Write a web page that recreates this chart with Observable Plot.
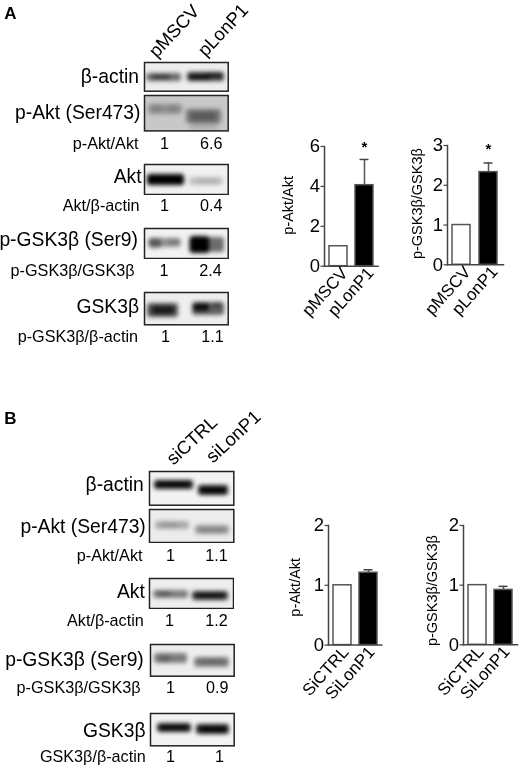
<!DOCTYPE html>
<html>
<head>
<meta charset="utf-8">
<script src="https://cdn.jsdelivr.net/npm/d3@7"></script>
<script src="https://cdn.jsdelivr.net/npm/@observablehq/plot@0.6"></script>
<style>
html,body{margin:0;padding:0;background:#fff;}
#page{position:relative;width:521px;height:765px;overflow:hidden;font-family:"Liberation Sans",Arial,sans-serif;filter:blur(0.3px);}
</style>
</head>
<body>
<div id="page"></div>
<script>
// ---------- bar chart data ----------
const groupsA = ["pMSCV", "pLonP1"];
const groupsB = ["SiCTRL", "SiLonP1"];
const pAktA = [1, 4.06];
const pAktAErr = [null, 5.35];
const pGskA = [1, 2.33];
const pGskAErr = [null, 2.56];
const pAktB = [1, 1.21];
const pAktBErr = [null, 1.26];
const pGskB = [1, 0.92];
const pGskBErr = [null, 0.98];
const ticksA1 = [0, 2, 4, 6];
const ticksA2 = [0, 1, 2, 3];
const ticksB = [0, 1, 2];

// ---------- blot labels and ratios ----------
const headersA = ["pMSCV", "pLonP1"];
const headersB = ["siCTRL", "siLonP1"];
const rowNamesA = ["β-actin", "p-Akt (Ser473)", "Akt", "p-GSK3β (Ser9)", "GSK3β"];
const rowNamesB = ["β-actin", "p-Akt (Ser473)", "Akt", "p-GSK3β (Ser9)", "GSK3β"];
const ratioNamesA = ["p-Akt/Akt", "Akt/β-actin", "p-GSK3β/GSK3β", "p-GSK3β/β-actin"];
const ratioNamesB = ["p-Akt/Akt", "Akt/β-actin", "p-GSK3β/GSK3β", "GSK3β/β-actin"];
const ratioCtrlA = ["1", "1", "1", "1"];
const ratioTreatA = ["6.6", "0.4", "2.4", "1.1"];
const ratioCtrlB = ["1", "1", "1", "1"];
const ratioTreatB = ["1.1", "1.2", "0.9", "1"];

// ---------- blot bands: [x1, x2, y1, y2, density] ----------
const bandsActinA = [[2,37,11,19,.55],[8,26,12.5,17,.5],[43,80,10,19,.75],[45,66,12,18,.65],[62,78,10,15,.5]];
const bandsPAktA = [[4,38,9,19,.28],[8,18,10,17,.1],[24,34,10,17,.1],[42,77,14,28,.4],[46,72,17,25,.25],[46,74,25,35,.12]];
const bandsAktA = [[3,40,10,21,1],[8,34,12,19,.9],[45,79,13,21,.2],[52,74,15,19,.1]];
const bandsPGskA = [[4,37,10,19,.4],[5,17,10,20,.4],[24,35,11,16,.2],[45,80,9,24,.55],[46,65,8,25,1],[49,60,11,21,.8]];
const bandsGskA = [[3,34,11,25,.65],[8,30,14,22,.7],[48,80,10,23,.6],[49,65,11,19,.85],[68,78,10,16,.3]];
const bandsActinB = [[5,44,9,18,.9],[9,40,11,15,.85],[49,79,14,24,.9],[53,75,17,22,.85]];
const bandsPAktB = [[6,40,12,20,.28],[12,30,14,18,.14],[46,80,16,25,.35],[50,76,19,23,.16]];
const bandsAktB = [[4,39,12,20,.48],[8,22,13,18,.28],[43,79,13,22,.78],[47,75,15,20,.7]];
const bandsPGskB = [[4,37,9,19,.48],[9,20,11,18,.22],[44,79,13,23,.45],[48,76,15,20,.22]];
const bandsGskB = [[7,41,10,19,.85],[10,38,12,17,.8],[46,79,11,21,.85],[50,76,13,19,.8]];

// ---------- layout (page pixels) ----------
const blotLayout = [
  {bands: bandsActinA, left: 144, top: 62, w: 83.7, h: 28.7, bg: "#ededed"},
  {bands: bandsPAktA, left: 144, top: 95.3, w: 83.7, h: 35.4, bg: "#c8c8c8"},
  {bands: bandsAktA, left: 144, top: 164.3, w: 83.7, h: 30, bg: "#f1f1f1"},
  {bands: bandsPGskA, left: 144, top: 228.3, w: 83.7, h: 30, bg: "#f2f2f2"},
  {bands: bandsGskA, left: 144, top: 291.7, w: 83.7, h: 32.3, bg: "#eeeeee"},
  {bands: bandsActinB, left: 149, top: 471, w: 84.3, h: 33.7, bg: "#f3f3f3"},
  {bands: bandsPAktB, left: 149, top: 509.3, w: 84.3, h: 33, bg: "#ececec"},
  {bands: bandsAktB, left: 149, top: 578.3, w: 84, h: 30, bg: "#eeeeee"},
  {bands: bandsPGskB, left: 150.3, top: 644, w: 83.7, h: 31.7, bg: "#eeeeee"},
  {bands: bandsGskB, left: 150.3, top: 712.7, w: 83.7, h: 32.3, bg: "#f3f3f3"}
];
const rowRightA = [138.5, 140, 141, 137.5, 138.5];
const rowYA = [76, 112.7, 176.7, 239.3, 306.7];
const ratioRightA = [138, 139, 134, 137.5];
const ratioYA = [143, 205, 270, 336.7];
const ctrlXA = [164, 164, 163.5, 165];
const treatXA = [210.7, 210.7, 210, 212];
const rowRightB = [143.3, 145.3, 144.3, 143.3, 145];
const rowYB = [484.3, 526, 591.7, 659.3, 730];
const ratioRightB = [142, 143.3, 140, 145.3];
const ratioYB = [555.7, 620, 687.7, 756.7];
const ctrlXB = [170, 169, 170, 170];
const treatXB = [216, 216, 216.7, 219];
const headerLayoutA = [
  {text: headersA[0], x: 152, y: 54},
  {text: headersA[1], x: 201, y: 53}
];
const headerLayoutB = [
  {text: headersB[0], x: 169, y: 461},
  {text: headersB[1], x: 208.5, y: 459}
];
const panelLetters = [{text: "A", x: 10, y: 13.5}, {text: "B", x: 10, y: 418.5}];

const page = document.getElementById("page");
const FONT = '"Liberation Sans", Arial, sans-serif';
const INK = "#000";
const AXIS = "#444";

// ---------- blots ----------
for (const b of blotLayout) {
  const rows = b.bands.map(([x1, x2, y1, y2, d]) => ({x1, x2, y1, y2, d}));
  const svg = Plot.plot({
    width: Math.ceil(b.w) + 2, height: Math.ceil(b.h) + 2,
    marginLeft: 1, marginRight: Math.ceil(b.w) + 1 - b.w, marginTop: 1, marginBottom: Math.ceil(b.h) + 1 - b.h,
    x: {domain: [0, b.w], axis: null},
    y: {domain: [b.h, 0], axis: null},
    style: {position: "absolute", left: (b.left - 1) + "px", top: (b.top - 1) + "px", background: "none", maxWidth: "none"},
    marks: [
      Plot.frame({fill: b.bg, stroke: null}),
      Plot.rect(rows, {x1: "x1", x2: "x2", y1: "y1", y2: "y2", fill: "#000", fillOpacity: "d", rx: 3, clip: true}),
      Plot.frame({stroke: "#222", strokeWidth: 1.5})
    ]
  });
  d3.select(svg).select('g[aria-label="rect"]').style("filter", "blur(1.9px)");
  page.appendChild(svg);
}

// ---------- bar charts ----------
const chartLayout = [
  {groups: groupsA, values: pAktA, errs: pAktAErr, ticks: ticksA1, max: 6, label: "p-Akt/Akt", star: 5.95, axisX: 323.7, endX: 377.3, topY: 146, baseY: 265.7, labelX: 288, labelDy: -1, tickDx: 6},
  {groups: groupsA, values: pGskA, errs: pGskAErr, ticks: ticksA2, max: 3, label: "p-GSK3β/GSK3β", star: 2.9, axisX: 447.3, endX: 503.3, topY: 145, baseY: 264.3, labelX: 416.7, labelDy: -1.5, tickDx: 6},
  {groups: groupsB, values: pAktB, errs: pAktBErr, ticks: ticksB, max: 2, label: "p-Akt/Akt", star: null, axisX: 327.7, endX: 381, topY: 524.7, baseY: 644.3, labelX: 295, labelDy: 2, tickDx: 3},
  {groups: groupsB, values: pGskB, errs: pGskBErr, ticks: ticksB, max: 2, label: "p-GSK3β/GSK3β", star: null, axisX: 463.3, endX: 517.3, topY: 524.7, baseY: 644, labelX: 432.3, labelDy: 5.5, tickDx: 3}
];
for (const c of chartLayout) {
  const rows = c.groups.map((g, i) => ({g, v: c.values[i], e: c.errs[i], fill: i ? "#000" : "#fff"}));
  const errRows = rows.filter(r => r.e != null);
  const left = c.axisX - 50, top = c.topY - 14;
  const svg = Plot.plot({
    width: c.endX - left + 4, height: c.baseY - top + 70,
    marginLeft: 50, marginRight: 4, marginTop: 14, marginBottom: 70,
    x: {domain: c.groups, paddingInner: 0.315, paddingOuter: 0.16, axis: null},
    y: {domain: [0, c.max], axis: null},
    style: {position: "absolute", left: left + "px", top: top + "px", background: "none", maxWidth: "none", overflow: "visible", fontFamily: FONT},
    marks: [
      Plot.ruleX(errRows, {x: "g", y1: "v", y2: "e", stroke: "#555", strokeWidth: 1.5}),
      Plot.tickY(errRows, {x: "g", y: "e", stroke: "#444", strokeWidth: 1.5, insetLeft: 4.5, insetRight: 4.5}),
      Plot.barY(rows, {x: "g", y: "v", fill: "fill", stroke: "#555", strokeWidth: 1.5}),
      Plot.frame({anchor: "left", stroke: AXIS, strokeWidth: 1.5}),
      Plot.frame({anchor: "bottom", stroke: AXIS, strokeWidth: 1.5}),
      Plot.axisY({ticks: c.ticks, tickSize: 3.5, tickPadding: 1, stroke: AXIS, strokeWidth: 1.2, fontSize: 18.5, fill: INK, label: null, tickFormat: d3.format("d")}),
      Plot.axisX({domain: c.groups, tickSize: 0, tickRotate: -48, tickPadding: 4, fontSize: 17, fill: INK, label: null, dx: c.tickDx}),
      Plot.text([c.label], {frameAnchor: "left", textAnchor: "middle", rotate: -90, dx: c.labelX - c.axisX, dy: c.labelDy, fontSize: 14.5, fill: INK}),
      c.star == null ? null : Plot.text(errRows, {x: "g", y: () => c.star, text: () => "*", fontSize: 15, fontWeight: "bold", fill: INK})
    ]
  });
  page.appendChild(svg);
}

// ---------- text layer ----------
const zip = (names, xs, ys) => names.map((text, i) => ({text, x: xs[i], y: ys[i]}));
const rowTexts = [...zip(rowNamesA, rowRightA, rowYA), ...zip(rowNamesB, rowRightB, rowYB)];
const ratioTexts = [...zip(ratioNamesA, ratioRightA, ratioYA), ...zip(ratioNamesB, ratioRightB, ratioYB)];
const ratioValues = [
  ...zip(ratioCtrlA, ctrlXA, ratioYA), ...zip(ratioTreatA, treatXA, ratioYA),
  ...zip(ratioCtrlB, ctrlXB, ratioYB), ...zip(ratioTreatB, treatXB, ratioYB)
];
const textPos = {x: "x", y: "y", text: "text", lineAnchor: "middle", fill: INK};
page.appendChild(Plot.plot({
  width: 521, height: 765, margin: 0,
  x: {domain: [0, 521], range: [0, 521], axis: null},
  y: {domain: [0, 765], range: [0, 765], axis: null},
  style: {position: "absolute", left: 0, top: 0, background: "none", maxWidth: "none", fontFamily: FONT},
  marks: [
    Plot.text(rowTexts, {...textPos, textAnchor: "end", fontSize: 19.3}),
    Plot.text(ratioTexts, {...textPos, textAnchor: "end", fontSize: 16.2}),
    Plot.text(ratioValues, {...textPos, textAnchor: "middle", fontSize: 16.2}),
    Plot.text(headerLayoutA, {...textPos, textAnchor: "start", rotate: -47, fontSize: 18.5}),
    Plot.text(headerLayoutB, {...textPos, textAnchor: "start", rotate: -43, fontSize: 18.5}),
    Plot.text(panelLetters, {...textPos, textAnchor: "middle", fontSize: 17, fontWeight: "bold", fill: "#000"})
  ]
}));
</script>
</body>
</html>
